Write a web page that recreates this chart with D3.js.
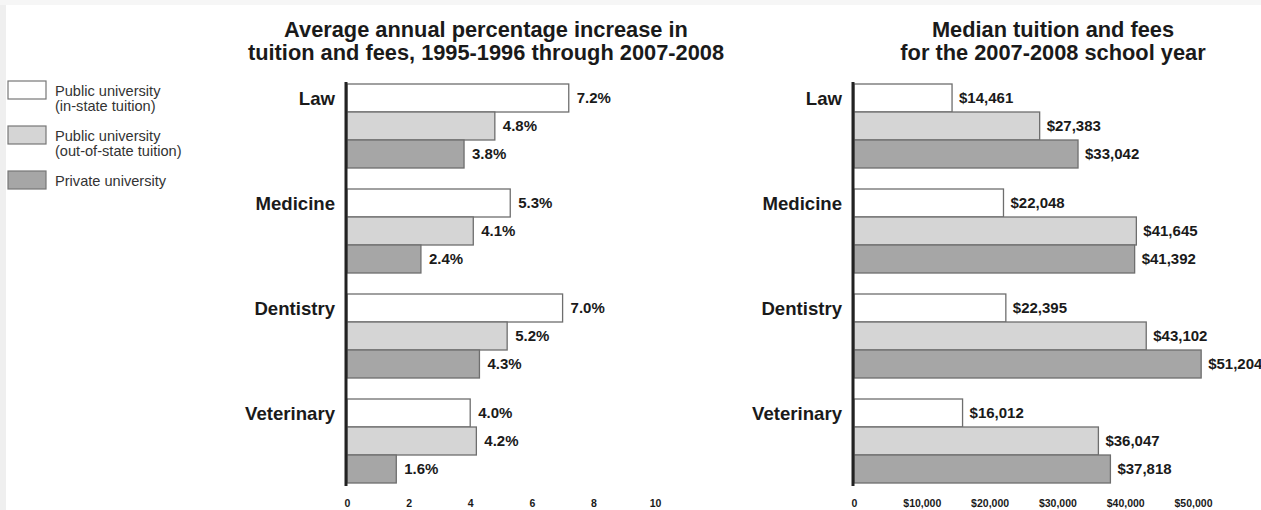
<!DOCTYPE html>
<html>
<head>
<meta charset="utf-8">
<script src="https://cdn.jsdelivr.net/npm/d3@7"></script>
<style>
  body { margin: 0; background: #fff; }
  svg { display: block; font-family: "Liberation Sans", Arial, Helvetica, sans-serif; }
</style>
</head>
<body>
<svg id="chart" width="1261" height="510"></svg>
<script>
const categories = ["Law", "Medicine", "Dentistry", "Veterinary"];
const seriesNames = [
    ["Public university", "(in-state tuition)"],
    ["Public university", "(out-of-state tuition)"],
    ["Private university"]
];
const seriesColors = ["#ffffff", "#d5d5d5", "#a6a6a6"];

// average annual % increase, 1995-96 through 2007-08
const pctInState = [7.2, 5.3, 7.0, 4.0];
const pctOutState = [4.8, 4.1, 5.2, 4.2];
const pctPrivate = [3.8, 2.4, 4.3, 1.6];
const pctTicks = [0, 2, 4, 6, 8, 10];

// median tuition and fees 2007-08
const feeInState = [14461, 22048, 22395, 16012];
const feeOutState = [27383, 41645, 43102, 36047];
const feePrivate = [33042, 41392, 51204, 37818];
const feeTicks = [0, 10000, 20000, 30000, 40000, 50000];

const svg = d3.select("#chart");

// faint scan border
svg.append("rect").attr("x", 0).attr("y", 0).attr("width", 6).attr("height", 510).attr("fill", "#efefef");
svg.append("rect").attr("x", 0).attr("y", 0).attr("width", 1261).attr("height", 5).attr("fill", "#f6f6f6");

const y = d3.scaleBand()
      .domain(categories)
      .range([84, 483])
      .paddingInner(0.2)
      .paddingOuter(0);
const ySub = d3.scaleBand()
      .domain([0, 1, 2])
      .range([0, y.bandwidth()]);

/* LEGEND
 */
const legend = svg.append("g").attr("class", "legend");
seriesNames.forEach(function(lines, i) {
    const g = legend.append("g").attr("transform", `translate(8,${81 + i * 45})`);
    g.append("rect")
	.attr("width", 38).attr("height", 18)
	.attr("fill", seriesColors[i])
	.attr("stroke", "#777").attr("stroke-width", 1.2);
    lines.forEach(function(t, j) {
	g.append("text")
	    .attr("x", 47).attr("y", 9.5 + j * 15)
	    .attr("dy", "0.35em")
	    .attr("font-size", 14.6)
	    .attr("fill", "#333")
	    .text(t);
    });
});

/* PANELS
 */
function drawPanel(opts) {
    const g = svg.append("g");
    const x = d3.scaleLinear().domain(opts.domain).range(opts.range);
    const series = [opts.a, opts.b, opts.c];

    opts.title.forEach(function(t, j) {
	g.append("text")
	    .attr("x", opts.titleX).attr("y", 37 + j * 23)
	    .attr("text-anchor", "middle")
	    .attr("font-size", 21.8).attr("font-weight", "bold")
	    .attr("fill", "#1a1a1a")
	    .text(t);
    });

    categories.forEach(function(cat, ci) {
	const gy = y(cat);
	g.append("text")
	    .attr("x", x(0) - 12).attr("y", gy + ySub.bandwidth() / 2)
	    .attr("dy", "0.35em")
	    .attr("text-anchor", "end")
	    .attr("font-size", 18.6).attr("font-weight", "bold")
	    .attr("fill", "#1a1a1a")
	    .text(cat);
	series.forEach(function(vals, si) {
	    const v = vals[ci];
	    const by = gy + ySub(si);
	    g.append("rect")
		.attr("x", x(0)).attr("y", by)
		.attr("width", x(v) - x(0)).attr("height", ySub.bandwidth())
		.attr("fill", seriesColors[si])
		.attr("stroke", "#6e6e6e").attr("stroke-width", 1.3);
	    g.append("text")
		.attr("x", x(v) + opts.labelGap).attr("y", by + ySub.bandwidth() / 2)
		.attr("dy", "0.35em")
		.attr("font-size", 15).attr("font-weight", "bold")
		.attr("fill", "#1a1a1a")
		.text(opts.fmt(v));
	});
    });

    g.append("line")
	.attr("x1", x(0) - 1).attr("x2", x(0) - 1)
	.attr("y1", 82).attr("y2", 486)
	.attr("stroke", "#222").attr("stroke-width", 3);

    const axis = g.append("g")
	  .attr("transform", "translate(0,497)")
	  .call(d3.axisBottom(x).tickValues(opts.ticks).tickSize(0).tickFormat(opts.tickFmt));
    axis.select(".domain").remove();
    axis.selectAll("text")
	.attr("font-family", "\"Liberation Sans\", Arial, sans-serif")
	.attr("font-size", 10.5).attr("font-weight", "bold")
	.attr("fill", "#1a1a1a");
}

const money = d3.format("$,");

drawPanel({
    domain: [0, 10], range: [347, 655],
    a: pctInState, b: pctOutState, c: pctPrivate,
    ticks: pctTicks, tickFmt: d3.format("d"),
    fmt: (v) => v.toFixed(1) + "%",
    labelGap: 8,
    titleX: 486,
    title: ["Average annual percentage increase in", "tuition and fees, 1995-1996 through 2007-2008"]
});

drawPanel({
    domain: [0, 50000], range: [854, 1193],
    a: feeInState, b: feeOutState, c: feePrivate,
    ticks: feeTicks, tickFmt: (d) => d === 0 ? "0" : money(d),
    fmt: money,
    labelGap: 7,
    titleX: 1053,
    title: ["Median tuition and fees", "for the 2007-2008 school year"]
});
</script>
</body>
</html>
